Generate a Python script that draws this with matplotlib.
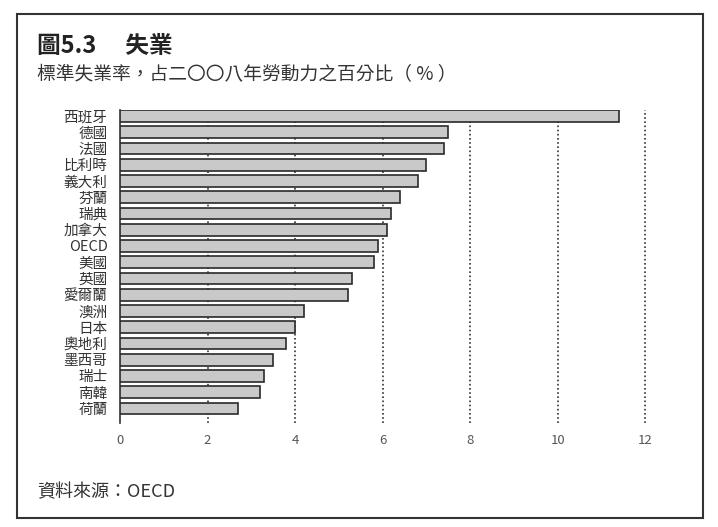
import matplotlib
matplotlib.use("Agg")
import matplotlib.pyplot as plt
from matplotlib.patches import Rectangle

plt.rcParams['font.family'] = ['Noto Sans CJK TC', 'DejaVu Sans']

# 資料: 標準失業率 2008 (%)
countries = ['西班牙', '德國', '法國', '比利時', '義大利', '芬蘭', '瑞典', '加拿大',
             'OECD', '美國', '英國', '愛爾蘭', '澳洲', '日本', '奧地利', '墨西哥',
             '瑞士', '南韓', '荷蘭']
rates = [11.4, 7.5, 7.4, 7.0, 6.8, 6.4, 6.2, 6.1,
         5.9, 5.8, 5.3, 5.2, 4.2, 4.0, 3.8, 3.5,
         3.3, 3.2, 2.7]
xticks = [0, 2, 4, 6, 8, 10, 12]

W, H = 718, 527
fig = plt.figure(figsize=(W / 100, H / 100), dpi=100)

# axes placement (pixel measured from reference)
left, right, top, bottom = 120, 667, 110, 423
ax = fig.add_axes([left / W, 1 - bottom / H, (right - left) / W, (bottom - top) / H])

pos = list(range(len(countries)))
ax.barh(pos, rates, height=0.72, color='#c9c9c9', edgecolor='#2a2a2a',
        linewidth=1.2, zorder=3)

for xv in xticks[1:]:
    ax.axvline(xv, color='#333333', linestyle=(0, (1, 1.5)), linewidth=1.2, zorder=1)

ax.set_xlim(0, 12.5)
ax.set_ylim(18.9, -0.37)
ax.set_xticks(xticks)
ax.set_xticklabels([str(v) for v in xticks])
ax.set_yticks(pos)
ax.set_yticklabels(countries)

for s in ['top', 'right', 'bottom']:
    ax.spines[s].set_visible(False)
ax.spines['left'].set_color('#333333')
ax.spines['left'].set_linewidth(1.2)

ax.tick_params(axis='x', length=0, pad=8, labelsize=9.5, labelcolor='#555555')
ax.tick_params(axis='y', length=0, pad=9, labelsize=10.5, labelcolor='#333333')

# 標題
fig.text(37 / W, 1 - 46 / H, '圖5.3　 失業', fontsize=17, fontweight='bold',
         color='#222222', va='center', ha='left')
fig.text(37 / W, 1 - 75 / H, '標準失業率，占二〇〇八年勞動力之百分比（ % ）',
         fontsize=13.5, color='#333333', va='center', ha='left')
fig.text(37 / W, 1 - 492 / H, '資料來源：OECD', fontsize=13,
         color='#333333', va='center', ha='left')

# 外框
fig.patches.append(Rectangle((17 / W, 1 - 518 / H), (703 - 17) / W, (518 - 14) / H,
                             transform=fig.transFigure, fill=False,
                             edgecolor='#333333', linewidth=1.5))

fig.savefig('out.png', dpi=100)
